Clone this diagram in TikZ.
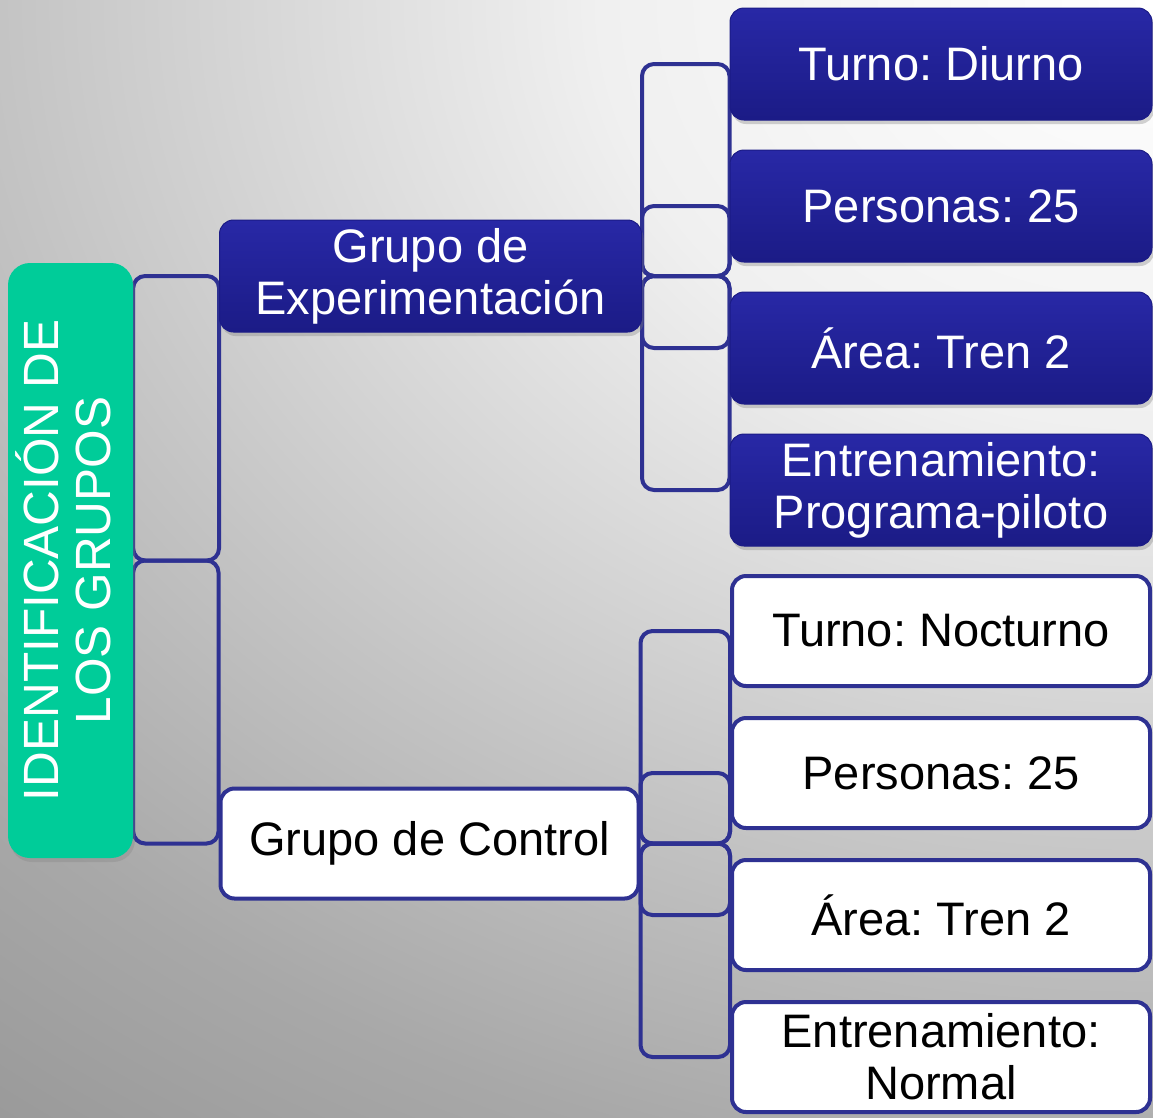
\documentclass[tikz,border=0pt]{standalone}
\usepackage{fontspec}
\setmainfont{Liberation Sans}
\usetikzlibrary{shadows,shadings}
\definecolor{conncol}{HTML}{2E3192}
\definecolor{rootgreen}{HTML}{00CC99}
\definecolor{bluetop}{HTML}{2828A6}
\definecolor{bluebot}{HTML}{1B1B86}
\definecolor{bgA}{HTML}{F0F0F0}
\definecolor{bgB}{HTML}{C4C4C4}
\definecolor{bgC}{HTML}{A8A8A8}
\definecolor{bgD}{HTML}{9A9A9A}
\definecolor{bgE}{HTML}{808080}
\pgfdeclareradialshading{bgshade}{\pgfpoint{0bp}{0bp}}{color(0bp)=(white); color(4.6bp)=(bgA); color(9.6bp)=(bgB); color(12.95bp)=(bgC); color(15.45bp)=(bgD); color(25bp)=(bgE); color(50bp)=(bgE)}
\pgfdeclarelayer{bg}
\pgfdeclarelayer{conn}
\pgfsetlayers{bg,conn,main}
\frenchspacing
\begin{document}
\begin{tikzpicture}[x=1pt,y=-1pt,
  box/.style={rectangle, rounded corners=14pt, inner sep=0pt, align=center,
    font=\fontsize{47}{52}\selectfont},
  bluebox/.style={box, minimum width=422pt, minimum height=112pt,
    top color=bluetop, bottom color=bluebot, draw=bluebot, line width=1pt,
    text=white, drop shadow={opacity=0.35, shadow xshift=2pt, shadow yshift=-4pt}},
  whitebox/.style={box, minimum width=418pt, minimum height=110pt,
    fill=white, draw=conncol, line width=4pt, text=black},
  rootbox/.style={rectangle, rounded corners=22pt, inner sep=0pt,
    minimum width=125pt, minimum height=595pt, fill=rootgreen, text=white,
    font=\fontsize{49.5}{52}\selectfont,
    drop shadow={opacity=0.3, shadow xshift=2pt, shadow yshift=-4pt}},
  link/.style={draw=conncol, line width=4pt, rounded corners=12pt}]

\useasboundingbox (0,0) rectangle (1153,1117);
\begin{pgfonlayer}{bg}
  \begin{scope}
    \clip (0,0) rectangle (1153,1117);
    \shade[shading=bgshade] (1153,0) ellipse [x radius=3000, y radius=2308];
  \end{scope}
\end{pgfonlayer}

% root
\node[rootbox] (root) at (70.5,560.5)
  {\rotatebox{90}{\begin{tabular}{@{}c@{}}IDENTIFICACIÓN DE\\LOS GRUPOS\end{tabular}}};

% level 1
\node[bluebox] (exp) at (430.5,276) {Grupo de\\Experimentación};
\node[whitebox] (ctl) at (429.5,843.5) {Grupo de Control};

% level 2 (experimentación)
\node[bluebox] (e1) at (941,64) {Turno: Diurno};
\node[bluebox] (e2) at (941,206) {Personas: 25};
\node[bluebox] (e3) at (941,348) {Área: Tren 2};
\node[bluebox] (e4) at (941,490) {Entrenamiento:\\Programa-piloto};

% level 2 (control)
\node[whitebox] (c1) at (941,631) {Turno: Nocturno};
\node[whitebox] (c2) at (941,773) {Personas: 25};
\node[whitebox] (c3) at (941,915) {Área: Tren 2};
\node[whitebox] (c4) at (941,1057) {Entrenamiento:\\Normal};

\begin{pgfonlayer}{conn}
  \draw[link] (root.east) rectangle (exp.west);
  \draw[link] (root.east) rectangle (ctl.west);
  \draw[link] (exp.east) rectangle (e1.west);
  \draw[link] (exp.east) rectangle (e2.west);
  \draw[link] (exp.east) rectangle (e3.west);
  \draw[link] (exp.east) rectangle (e4.west);
  \draw[link] (ctl.east) rectangle (c1.west);
  \draw[link] (ctl.east) rectangle (c2.west);
  \draw[link] (ctl.east) rectangle (c3.west);
  \draw[link] (ctl.east) rectangle (c4.west);
\end{pgfonlayer}
\end{tikzpicture}
\end{document}
